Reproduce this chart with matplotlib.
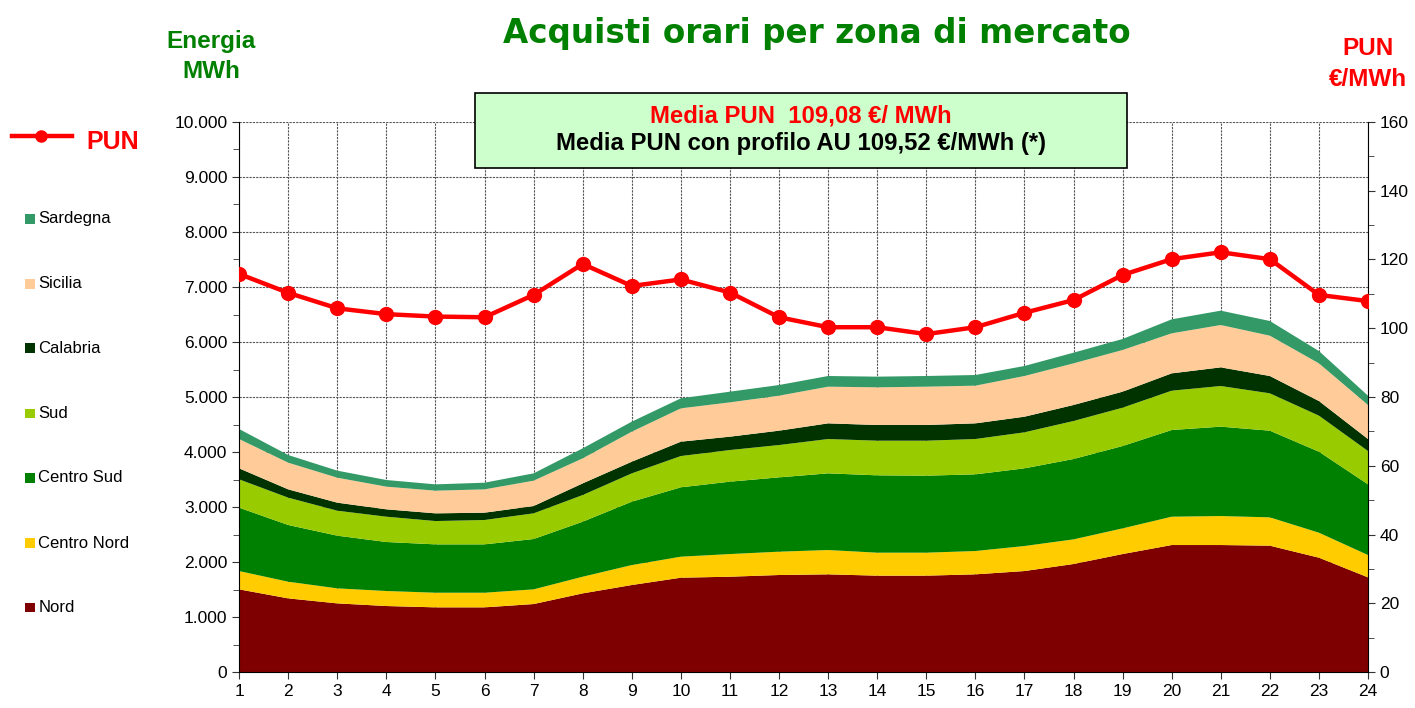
"""Acquisti orari per zona di mercato: stacked areas (MWh) with the PUN line (EUR/MWh)."""

import matplotlib
matplotlib.use("Agg")
import matplotlib.pyplot as plt
from matplotlib.patches import Rectangle
from matplotlib.lines import Line2D
from matplotlib.ticker import FuncFormatter, MultipleLocator

plt.rcParams["font.family"] = ["Liberation Sans", "DejaVu Sans"]

hours = list(range(1, 25))

nord = [1503, 1339, 1248, 1200, 1176, 1176, 1236, 1430, 1582, 1715, 1733, 1764,
        1776, 1752, 1752, 1776, 1836, 1964, 2145, 2309, 2309, 2297, 2079, 1721]
centro_nord = [333, 303, 273, 273, 266, 266, 267, 303, 363, 382, 412, 424,
               442, 418, 418, 424, 455, 448, 467, 515, 527, 515, 454, 406]
centro_sud = [1152, 1031, 958, 891, 879, 879, 915, 1000, 1152, 1261, 1316, 1351,
              1394, 1406, 1400, 1394, 1412, 1461, 1497, 1576, 1625, 1576, 1473, 1285]
sud = [515, 497, 454, 460, 424, 443, 467, 485, 515, 569, 575, 588,
       624, 630, 636, 642, 655, 691, 697, 715, 739, 679, 655, 606]
calabria = [200, 151, 146, 134, 140, 133, 133, 212, 212, 261, 243, 261,
            285, 285, 285, 285, 284, 291, 291, 315, 339, 315, 266, 218]
sicilia = [533, 485, 454, 412, 412, 424, 461, 455, 546, 606, 624, 636,
           667, 685, 697, 685, 740, 757, 758, 728, 770, 733, 685, 619]
sardegna = [182, 139, 128, 121, 115, 121, 133, 182, 182, 182, 194, 194,
            194, 194, 194, 194, 182, 194, 200, 254, 261, 267, 224, 169]

pun = [115.8, 110.3, 105.8, 104.1, 103.4, 103.2, 109.7, 118.7, 112.3, 114.2, 110.4, 103.2,
       100.3, 100.3, 98.3, 100.3, 104.5, 108.2, 115.5, 120.1, 122.1, 120.1, 109.7, 107.9]

zone_names = ["Nord", "Centro Nord", "Centro Sud", "Sud", "Calabria", "Sicilia", "Sardegna"]
zone_colors = ["#7F0000", "#FFCC00", "#008000", "#99CC00", "#003300", "#FFCC99", "#339966"]

fig = plt.figure(figsize=(14.15, 7.08), dpi=100)
ax = fig.add_axes([0.169, 0.0508, 0.7978, 0.7769])

ax.stackplot(hours, nord, centro_nord, centro_sud, sud, calabria, sicilia, sardegna,
             colors=zone_colors, linewidth=0)
ax.set_xlim(1, 24)
ax.set_ylim(0, 10000)
ax.set_xticks(hours)
ax.yaxis.set_major_locator(MultipleLocator(1000))
ax.yaxis.set_minor_locator(MultipleLocator(500))
ax.yaxis.set_major_formatter(FuncFormatter(lambda v, p: f"{int(v):,}".replace(",", ".")))
ax.set_axisbelow(True)
ax.grid(True, which="major", color="#555555", linestyle=(0, (2, 1)), linewidth=0.8)
ax.tick_params(axis="both", which="both", direction="out", labelsize=12.5, color="#333333")
ax.tick_params(axis="x", length=5)
ax.tick_params(axis="y", which="major", length=5)
ax.tick_params(axis="y", which="minor", length=4)
for s in ["top", "right"]:
    ax.spines[s].set_visible(False)

ax2 = ax.twinx()
ax2.plot(hours, pun, color="#FF0000", linewidth=3.2, marker="o", markersize=10, zorder=5)
ax2.set_ylim(0, 160)
ax2.yaxis.set_major_locator(MultipleLocator(20))
ax2.yaxis.set_minor_locator(MultipleLocator(10))
ax2.tick_params(axis="y", which="both", direction="out", labelsize=12.5, color="#333333")
ax2.tick_params(axis="y", which="major", length=5)
ax2.tick_params(axis="y", which="minor", length=4)
for s in ["top", "left", "bottom"]:
    ax2.spines[s].set_visible(False)

# titles
fig.text(0.577, 0.953, "Acquisti orari per zona di mercato", color="#008000",
         fontsize=23.5, fontweight="bold", ha="center", va="center",
         family="DejaVu Sans")
fig.text(0.149, 0.941, "Energia", color="#008000", fontsize=17.5,
         fontweight="bold", ha="center", va="center")
fig.text(0.149, 0.899, "MWh", color="#008000", fontsize=17.5,
         fontweight="bold", ha="center", va="center")
fig.text(0.967, 0.931, "PUN", color="#FF0000", fontsize=17.5,
         fontweight="bold", ha="center", va="center")
fig.text(0.967, 0.888, "€/MWh", color="#FF0000", fontsize=17.5,
         fontweight="bold", ha="center", va="center")

# info box
fig.add_artist(Rectangle((0.3357, 0.7627), 0.4608, 0.1059, transform=fig.transFigure,
                         facecolor="#CCFFCC", edgecolor="black", linewidth=1.2))
fig.text(0.566, 0.836, "Media PUN  109,08 €/ MWh", color="#FF0000", fontsize=17.2,
         fontweight="bold", ha="center", va="center")
fig.text(0.566, 0.797, "Media PUN con profilo AU 109,52 €/MWh (*)", color="black",
         fontsize=17.2, fontweight="bold", ha="center", va="center")

# legend, drawn by hand on the left
fig.add_artist(Line2D([0.0085, 0.051], [0.808, 0.808], transform=fig.transFigure,
                      color="#FF0000", linewidth=3.2))
fig.add_artist(Line2D([0.029], [0.808], transform=fig.transFigure, color="#FF0000",
                      marker="o", markersize=8))
fig.text(0.061, 0.800, "PUN", color="#FF0000", fontsize=18, fontweight="bold",
         ha="left", va="center")

label_y = [0.142, 0.233, 0.325, 0.416, 0.508, 0.599, 0.691]
for name, col, yy in zip(zone_names, zone_colors, label_y):
    fig.add_artist(Rectangle((0.0177, yy - 0.0071), 0.0071, 0.0141, transform=fig.transFigure,
                             facecolor=col, edgecolor="none"))
    fig.text(0.0272, yy, name, fontsize=12, ha="left", va="center")

fig.savefig("out.png", dpi=100)
